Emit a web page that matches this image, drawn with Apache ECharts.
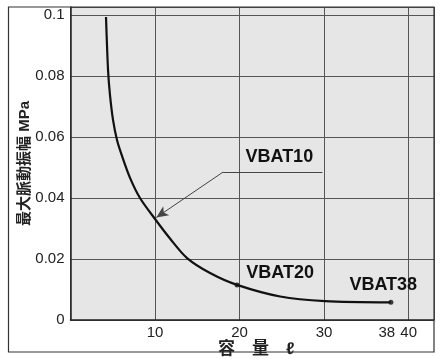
<!DOCTYPE html>
<html><head><meta charset="utf-8">
<script src="https://cdn.jsdelivr.net/npm/echarts@6/dist/echarts.min.js"></script>
<style>html,body{margin:0;padding:0;background:#fff}#c{width:445px;height:359px}</style>
</head><body><div id="c"></div>
<script>
// ---- data ----
const curveX = [4.20, 4.44, 4.67, 5.03, 5.50, 6.09, 7.04, 8.22, 10.0, 11.77, 13.79, 16.51, 19.70, 24.8, 30.1, 37.9];
const curveY = [0.0993, 0.0820, 0.0738, 0.0656, 0.0590, 0.0538, 0.0466, 0.0400, 0.0331, 0.0267, 0.0203, 0.0154, 0.0115, 0.0077, 0.0062, 0.0058];
const dotX = [19.7, 37.9];
const dotY = [0.0115, 0.0058];
const modelNames = ['VBAT10', 'VBAT20', 'VBAT38'];
const modelLabelX = [24.7, 24.8, 37.0];
const modelLabelY = [0.0534, 0.0154, 0.0115];
const leaderX = [29.8, 18.05, 10.15];
const leaderY = [0.0485, 0.0485, 0.0336];
const xTicks = [10, 20, 30, 40];
const xExtraTick = [38];
const yTicks = [0, 0.02, 0.04, 0.06, 0.08, 0.1];
const xName = '容\u3000量\u3000\u2113';
const yName = '最大脈動振幅 MPa';

const FONT = '"Liberation Sans", Arial, Helvetica, sans-serif';
const CJK = '"Liberation Sans", "Noto Sans CJK JP", sans-serif';

const chart = echarts.init(document.getElementById('c'), null, {renderer: 'canvas'});
const curve = curveX.map((x, i) => [x, curveY[i]]);
const dots = dotX.map((x, i) => [x, dotY[i]]);

chart.setOption({
  animation: false,
  backgroundColor: '#fff',
  graphic: [{
    type: 'rect', z: 100, silent: true,
    shape: {x: 8.5, y: 7, width: 425.5, height: 345},
    style: {fill: 'none', stroke: '#333', lineWidth: 1.2}
  }],
  grid: {left: 70.5, right: 11, top: 7, bottom: 39, show: true, containLabel: false,
         outerBoundsMode: 'none',
         backgroundColor: '#e6e6e6', borderWidth: 0},
  xAxis: [{
    type: 'value', min: 0, max: 43, interval: 10,
    name: xName, nameLocation: 'middle', nameGap: 21, nameMoveOverlap: false,
    nameTextStyle: {fontSize: 17, fontWeight: 'bold', color: '#222', fontFamily: CJK, padding: [0, 0, 0, 8]},
    axisLine: {show: true, onZero: false, lineStyle: {color: '#222', width: 1.5}},
    axisTick: {show: false},
    axisLabel: {margin: 5, fontSize: 15, color: '#222', fontFamily: FONT,
      formatter: v => xTicks.includes(v) ? String(v) : ''},
    splitLine: {show: true, lineStyle: {color: '#555', width: 1}}
  }, {
    type: 'value', min: 0, max: 43, interval: 1, position: 'bottom',
    axisLine: {show: false}, axisTick: {show: false}, splitLine: {show: false},
    axisLabel: {margin: 5, fontSize: 15, color: '#222', fontFamily: FONT,
      padding: [0, 10, 0, 0],
      formatter: v => xExtraTick.includes(v) ? String(v) : ''}
  }],
  yAxis: {
    type: 'value', min: 0, max: 0.1026, interval: 0.02,
    name: yName, nameLocation: 'middle', nameGap: 38, nameMoveOverlap: false,
    nameTextStyle: {fontSize: 15, fontWeight: 'bold', color: '#222', fontFamily: CJK},
    axisLine: {show: true, onZero: false, lineStyle: {color: '#222', width: 1.5}},
    axisTick: {show: false},
    axisLabel: {margin: 6, fontSize: 15, color: '#222', fontFamily: FONT,
      formatter: v => {
        const t = yTicks.find(k => Math.abs(k - v) < 1e-9);
        return t === undefined ? '' : String(t);
      }},
    splitLine: {show: true, lineStyle: {color: '#555', width: 1}}
  },
  series: [{
    type: 'line', data: curve, smooth: 0.3,
    symbol: 'none', lineStyle: {color: '#111', width: 2.2}, z: 5,
    markLine: {
      silent: true, symbol: 'none',
      lineStyle: {color: '#444', width: 1, type: 'solid'},
      label: {show: false},
      data: [
        [{coord: [leaderX[0], leaderY[0]], symbol: 'none'}, {coord: [leaderX[1], leaderY[1]], symbol: 'none'}],
        [{coord: [leaderX[1], leaderY[1]], symbol: 'none'}, {coord: [leaderX[2], leaderY[2]], symbol: 'arrow', symbolSize: [8, 12]}]
      ]
    },
    markPoint: {
      silent: true, symbol: 'rect', symbolSize: 1,
      itemStyle: {color: 'rgba(0,0,0,0)'},
      label: {show: true, position: 'inside', fontSize: 18, fontWeight: 'bold', color: '#111', fontFamily: FONT},
      data: modelNames.map((n, i) => ({coord: [modelLabelX[i], modelLabelY[i]], value: n,
        label: {formatter: n}}))
    }
  }, {
    type: 'scatter', data: dots, symbol: 'circle', symbolSize: 5,
    itemStyle: {color: '#111'}, z: 6
  }]
});
</script></body></html>
